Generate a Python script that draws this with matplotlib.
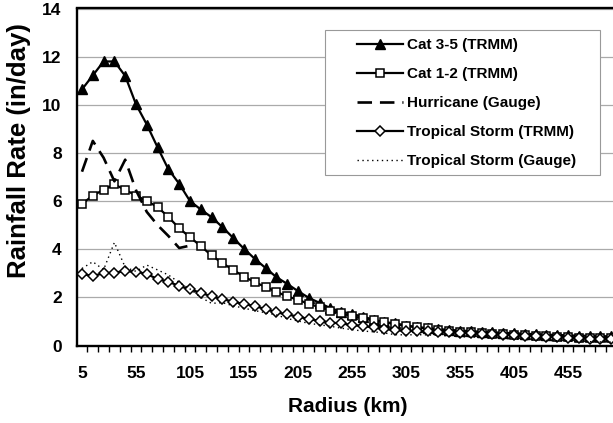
import matplotlib
matplotlib.use("Agg")
import matplotlib.pyplot as plt
from matplotlib.patches import Rectangle
import numpy as np

plt.rcParams['font.family'] = ['Liberation Sans', 'DejaVu Sans']
plt.rcParams['font.weight'] = 'bold'

# radius categories (km)
radius = list(range(5, 496, 10))

cat35_trmm = [10.64, 11.22, 11.8, 11.8, 11.2, 10.02, 9.18, 8.23, 7.32, 6.72,
              6.0, 5.65, 5.33, 4.92, 4.47, 4.02, 3.6, 3.22, 2.84, 2.56,
              2.26, 1.98, 1.77, 1.55, 1.41, 1.31, 1.2, 1.07, 0.97, 0.92,
              0.83, 0.76, 0.72, 0.68, 0.65, 0.62, 0.6, 0.57, 0.55, 0.53,
              0.51, 0.49, 0.47, 0.45, 0.44, 0.42, 0.41, 0.4, 0.39, 0.38]
cat12_trmm = [5.88, 6.23, 6.47, 6.69, 6.47, 6.23, 6.01, 5.75, 5.34, 4.87,
              4.5, 4.13, 3.74, 3.42, 3.14, 2.86, 2.63, 2.43, 2.23, 2.04,
              1.9, 1.73, 1.59, 1.45, 1.33, 1.22, 1.13, 1.04, 0.96, 0.89,
              0.82, 0.76, 0.71, 0.66, 0.62, 0.58, 0.55, 0.52, 0.49, 0.47,
              0.45, 0.43, 0.41, 0.39, 0.37, 0.35, 0.33, 0.32, 0.31, 0.3]
hurr_gauge = [7.22, 8.5, 7.8, 6.82, 7.72, 6.45, 5.55, 5.0, 4.55, 4.05, 4.15]
ts_trmm = [2.97, 2.89, 3.0, 3.03, 3.09, 3.07, 2.97, 2.76, 2.65, 2.47,
           2.33, 2.19, 2.04, 1.93, 1.82, 1.72, 1.64, 1.51, 1.38, 1.29,
           1.2, 1.1, 1.02, 0.95, 0.92, 0.85, 0.81, 0.75, 0.69, 0.64,
           0.61, 0.62, 0.6, 0.57, 0.55, 0.52, 0.5, 0.48, 0.46, 0.44,
           0.42, 0.4, 0.38, 0.36, 0.34, 0.32, 0.3, 0.28, 0.27, 0.26]
ts_gauge = [3.2, 3.48, 3.15, 4.28, 3.25, 3.08, 3.34, 3.14, 2.93, 2.62,
            2.35, 2.0, 1.75, 1.78, 1.65, 1.55, 1.45, 1.36, 1.27, 1.12,
            1.02, 0.92, 0.86, 0.8, 0.72, 0.66, 0.6, 0.57, 0.52, 0.45,
            0.44, 0.45, 0.44, 0.42, 0.4, 0.37, 0.35, 0.33, 0.31, 0.29,
            0.27, 0.25, 0.23, 0.21, 0.2, 0.18, 0.17, 0.16, 0.15, 0.14]

W, H = 613, 423
fig = plt.figure(figsize=(W / 100, H / 100), dpi=100)
ax = fig.add_axes([77 / W, 77.5 / H, 1 - 77 / W, 337 / H])

ax.plot(radius, cat35_trmm, color='black', lw=1.6, marker='^', ms=7,
        label='Cat 3-5 (TRMM)', zorder=3)
ax.plot(radius, cat12_trmm, color='black', lw=1.6, marker='s', ms=6.2,
        mfc='white', mew=1.1, label='Cat 1-2 (TRMM)', zorder=3)
ax.plot(radius[:len(hurr_gauge)], hurr_gauge, color='black', lw=1.9,
        dashes=(5.5, 3), label='Hurricane (Gauge)', zorder=3)
ax.plot(radius, ts_trmm, color='black', lw=1.6, marker='D', ms=5,
        mfc='white', mew=1.1, label='Tropical Storm (TRMM)', zorder=3)
ax.plot(radius, ts_gauge, color='black', lw=1.0, linestyle=(0, (1, 2.5)),
        label='Tropical Storm (Gauge)', zorder=3)

ax.set_xlim(0.37, 496.7)
ax.set_ylim(0, 14)
ax.set_yticks(range(0, 15, 2))
ax.set_xticks(range(5, 456, 50))
ax.set_xticks(range(10, 496, 10), minor=True)
ax.tick_params(axis='x', which='major', length=0, pad=15, labelsize=12.5)
ax.tick_params(axis='x', which='minor', length=4.5, width=1, direction='out')
ax.tick_params(axis='y', length=0, pad=11, labelsize=12.5)
for lab in ax.get_xticklabels() + ax.get_yticklabels():
    lab.set_fontweight('bold')

ax.grid(axis='y', color='#aaaaaa', lw=0.9)
ax.set_axisbelow(True)
for s in ['left', 'top', 'bottom']:
    ax.spines[s].set_linewidth(1.7)
ax.spines['right'].set_visible(False)

fig.text(19.5 / W, 1 - 151 / H, 'Rainfall Rate (in/day)', rotation=90,
         ha='center', va='center', fontsize=18.5, fontweight='bold')
fig.text(347.5 / W, 1 - 406 / H, 'Radius (km)', ha='center', va='center',
         fontsize=15, fontweight='bold')

# legend box
box = Rectangle((325 / W, 1 - 175 / H), 275 / W, 145 / H, transform=fig.transFigure,
                facecolor='white', edgecolor='#999999', lw=0.8, zorder=4)
ax.add_patch(box)
box.set_clip_on(False)
leg = ax.legend(loc='upper left', bbox_to_anchor=(356.7 / W, 1 - 38.5 / H),
                bbox_transform=fig.transFigure, frameon=False, fontsize=11,
                handlelength=3.05, handletextpad=0.25, labelspacing=0.98,
                borderpad=0, borderaxespad=0)
leg.set_zorder(5)
for t in leg.get_texts():
    t.set_fontweight('bold')

fig.savefig('out.png', dpi=100)
